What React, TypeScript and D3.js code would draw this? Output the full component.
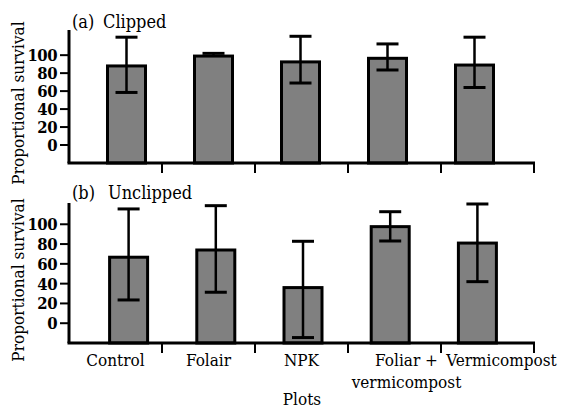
// App.tsx
import React, { useRef, useEffect } from 'react';
import * as d3 from 'd3';

const plots = ['Control', 'Folair', 'NPK', 'Foliar +\nvermicompost', 'Vermicompost'];
const yTicks = [0, 20, 40, 60, 80, 100];

// (a) Clipped
const clippedMean = [88, 99, 92.5, 96.5, 89];
const clippedLow = [58.5, 99, 69, 83.5, 64];
const clippedHigh = [120, 102, 121, 112.5, 120];

// (b) Unclipped
const unclippedMean = [66.7, 74, 36, 97.6, 81];
const unclippedLow = [23.5, 31.3, -14.5, 83.1, 42];
const unclippedHigh = [115.5, 118.8, 82.8, 112.7, 120.5];

const FONT = 'DejaVu Serif Condensed, DejaVu Serif, serif';

const App = () => {
  const chartRef = useRef(null);

  useEffect(() => {
    const svg = d3.select(chartRef.current);
    svg.selectAll('*').remove();

    const drawPanel = (opts) => {
      const { mean, low, high, yTop, yBottom, yMax, barRange, title, label, labelY } = opts;
      const g = svg.append('g');

      const yScale = d3.scaleLinear().domain([-20, yMax]).range([yBottom, yTop]);
      const xAxisScale = d3.scaleBand().domain(plots).range([69, 534]);
      const xBar = d3.scalePoint().domain(plots).range(barRange).padding(0.5);
      const barW = 38;

      const rows = plots.map((p, i) => ({ p, mean: mean[i], low: low[i], high: high[i] }));

      // bars
      g.selectAll('rect.bar')
        .data(rows)
        .enter()
        .append('rect')
        .attr('class', 'bar')
        .attr('x', (d) => xBar(d.p) - barW / 2)
        .attr('width', barW)
        .attr('y', (d) => yScale(d.mean))
        .attr('height', (d) => yScale(-20) - yScale(d.mean))
        .style('fill', '#808080')
        .style('stroke', '#000')
        .style('stroke-width', 3);

      // error bars
      const err = g.selectAll('g.err').data(rows).enter().append('g').attr('class', 'err');
      err
        .append('line')
        .attr('x1', (d) => xBar(d.p))
        .attr('x2', (d) => xBar(d.p))
        .attr('y1', (d) => yScale(d.low))
        .attr('y2', (d) => yScale(d.high))
        .style('stroke', '#000')
        .style('stroke-width', 2.5);
      err
        .append('line')
        .attr('x1', (d) => xBar(d.p) - 11)
        .attr('x2', (d) => xBar(d.p) + 11)
        .attr('y1', (d) => yScale(d.high))
        .attr('y2', (d) => yScale(d.high))
        .style('stroke', '#000')
        .style('stroke-width', 3);
      err
        .filter((d) => d.low < d.mean)
        .append('line')
        .attr('x1', (d) => xBar(d.p) - 11)
        .attr('x2', (d) => xBar(d.p) + 11)
        .attr('y1', (d) => yScale(d.low))
        .attr('y2', (d) => yScale(d.low))
        .style('stroke', '#000')
        .style('stroke-width', 3);

      // axes
      g.append('line')
        .attr('x1', 69)
        .attr('x2', 69)
        .attr('y1', yScale(yMax))
        .attr('y2', yScale(-20))
        .style('stroke', '#000')
        .style('stroke-width', 3);
      g.append('line')
        .attr('x1', 67.5)
        .attr('x2', 535)
        .attr('y1', yScale(-20))
        .attr('y2', yScale(-20))
        .style('stroke', '#000')
        .style('stroke-width', 3);

      // y ticks
      g.selectAll('line.yt')
        .data(yTicks)
        .enter()
        .append('line')
        .attr('x1', 60)
        .attr('x2', 69)
        .attr('y1', (d) => yScale(d))
        .attr('y2', (d) => yScale(d))
        .style('stroke', '#000')
        .style('stroke-width', 2);
      g.selectAll('text.yt')
        .data(yTicks)
        .enter()
        .append('text')
        .attr('x', 57)
        .attr('y', (d) => yScale(d))
        .attr('dy', '0.36em')
        .attr('text-anchor', 'end')
        .attr('font-weight', 'bold')
        .attr('font-size', 16.5)
        .attr('letter-spacing', -0.5)
        .text((d) => d);

      // x ticks at band edges
      g.selectAll('line.xt')
        .data(plots)
        .enter()
        .append('line')
        .attr('x1', (d) => xAxisScale(d) + xAxisScale.bandwidth())
        .attr('x2', (d) => xAxisScale(d) + xAxisScale.bandwidth())
        .attr('y1', yScale(-20))
        .attr('y2', yScale(-20) + 10)
        .style('stroke', '#000')
        .style('stroke-width', 2);

      // titles
      g.append('text')
        .attr('x', 72)
        .attr('y', title[3])
        .attr('font-size', 18)
        .text(title[0]);
      g.append('text')
        .attr('x', title[2])
        .attr('y', title[3])
        .attr('font-size', 18)
        .text(title[1]);

      g.append('text')
        .attr('transform', `translate(24,${labelY}) rotate(-90)`)
        .attr('text-anchor', 'middle')
        .attr('font-size', 17)
        .text(label);

      return { g, xAxisScale, yScale };
    };

    drawPanel({
      mean: clippedMean,
      low: clippedLow,
      high: clippedHigh,
      yTop: 30,
      yBottom: 163,
      yMax: 128,
      barRange: [83, 518],
      title: ['(a)', 'Clipped', 103, 28],
      label: 'Proportional survival',
      labelY: 103,
    });

    const bottom = drawPanel({
      mean: unclippedMean,
      low: unclippedLow,
      high: unclippedHigh,
      yTop: 203,
      yBottom: 343,
      yMax: 121.5,
      barRange: [85, 521],
      title: ['(b)', 'Unclipped', 108, 199],
      label: 'Proportional survival',
      labelY: 280,
    });

    // category labels
    const xs = bottom.xAxisScale;
    const labels = bottom.g
      .selectAll('text.xl')
      .data(plots)
      .enter()
      .append('text')
      .attr('class', 'xl')
      .attr('text-anchor', 'middle')
      .attr('x', (d, i) => xs(d) + xs.bandwidth() / 2 + (i === 4 ? 14 : i === 3 ? 12 : 0))
      .attr('y', 366)
      .attr('font-size', 17);
    labels
      .selectAll('tspan')
      .data((d) => d.split('\n'))
      .enter()
      .append('tspan')
      .attr('x', function () {
        return d3.select(this.parentNode).attr('x');
      })
      .attr('dy', (d, i) => (i === 0 ? 0 : 22))
      .text((d) => d);

    svg
      .append('text')
      .attr('x', 302)
      .attr('y', 405)
      .attr('text-anchor', 'middle')
      .attr('font-size', 17)
      .text('Plots');
  }, []);

  return (
    <svg
      ref={chartRef}
      width={563}
      height={409}
      fontFamily={FONT}
      style={{ position: 'absolute', left: 0, top: 0, background: '#fff' }}
    ></svg>
  );
};

export default App;
